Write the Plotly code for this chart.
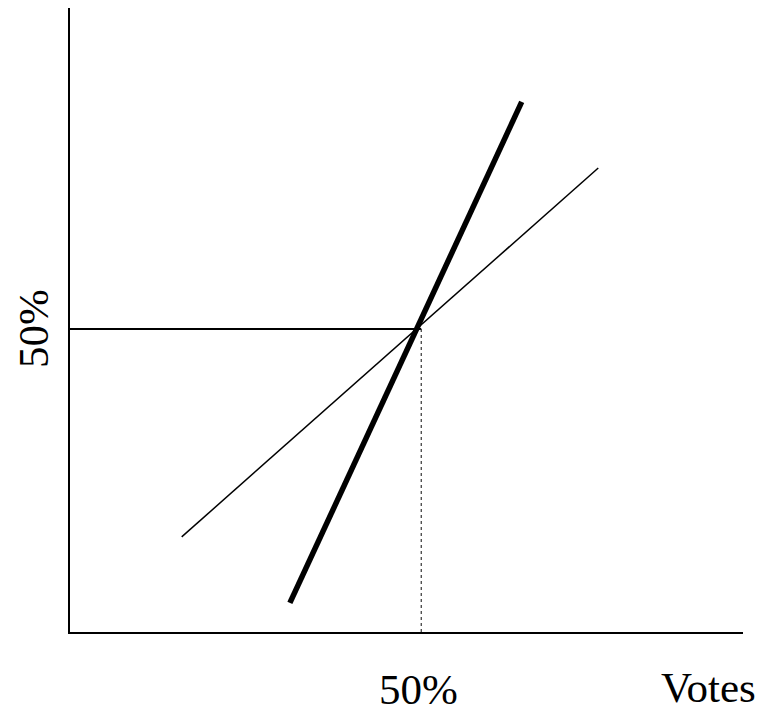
import plotly.graph_objects as go

# Data (votes % on x, seats % on y)
thin_x = [15.9, 75.2]
thin_y = [15.7, 76.6]
thick_x = [31.3, 64.3]
thick_y = [4.8, 87.5]
ref_level = 50
x_max = 95.8
y_max = 103.0
x_label = "Votes"
tick_label = "50%"

FONT = "Liberation Serif"

fig = go.Figure()
# horizontal 50% reference
fig.add_trace(go.Scatter(x=[0, ref_level], y=[ref_level, ref_level], mode="lines",
                         line=dict(color="black", width=2), hoverinfo="skip"))
# dotted vertical 50% reference
fig.add_trace(go.Scatter(x=[ref_level, ref_level], y=[0, ref_level], mode="lines",
                         line=dict(color="#333", width=1.2, dash="dot"), hoverinfo="skip"))
fig.add_trace(go.Scatter(x=thin_x, y=thin_y, mode="lines",
                         line=dict(color="black", width=1.5), hoverinfo="skip"))
fig.add_trace(go.Scatter(x=thick_x, y=thick_y, mode="lines",
                         line=dict(color="black", width=5.5), hoverinfo="skip"))

fig.update_layout(
    width=764, height=718,
    margin=dict(l=70, r=21, t=8, b=86),
    paper_bgcolor="white", plot_bgcolor="white",
    showlegend=False,
    font=dict(family=FONT),
    xaxis=dict(range=[0, x_max], showline=True, linecolor="black", linewidth=2,
               showgrid=False, zeroline=False, showticklabels=False, ticks=""),
    yaxis=dict(range=[0, y_max], showline=True, linecolor="black", linewidth=2,
               showgrid=False, zeroline=False, showticklabels=False, ticks=""),
    annotations=[
        dict(x=49.6, y=0, xref="x", yref="y", text=tick_label, showarrow=False,
             yanchor="top", yshift=-32, font=dict(family=FONT, size=43, color="black")),
        dict(x=90.9, y=0, xref="x", yref="y", text=x_label, showarrow=False,
             xanchor="center", yanchor="top", yshift=-30,
             font=dict(family=FONT, size=43, color="black")),
        dict(x=0, y=ref_level, xref="paper", yref="y", text=tick_label, showarrow=False,
             textangle=-90, xanchor="center", xshift=-37,
             font=dict(family=FONT, size=43, color="black")),
    ],
)

fig.write_html("out.html", config={"displayModeBar": False},
               post_script="document.body.style.margin='0px';")
